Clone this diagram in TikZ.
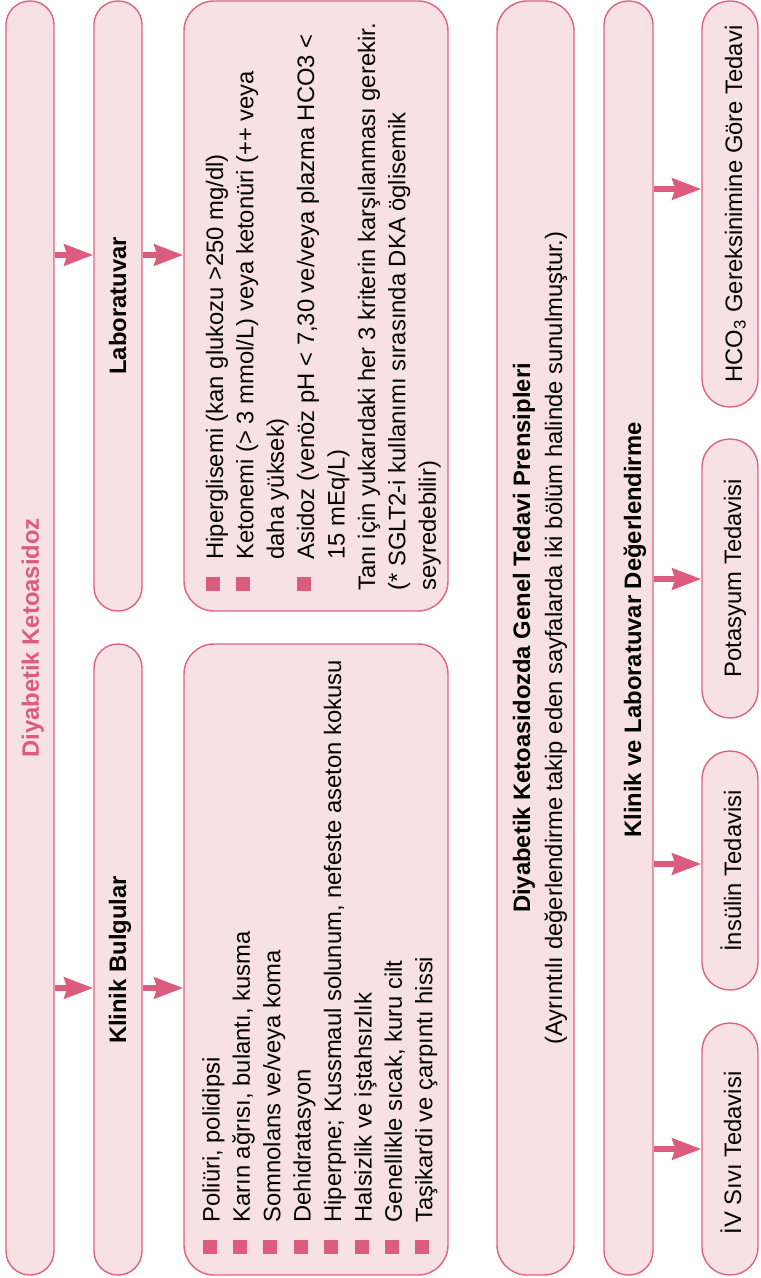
\documentclass[tikz,border=0pt]{standalone}
\usepackage{fontspec}
\setmainfont{Liberation Sans}
\usetikzlibrary{arrows.meta}

\definecolor{boxfill}{RGB}{248,225,229}
\definecolor{boxline}{RGB}{224,98,128}
\definecolor{accent}{RGB}{219,92,124}

% square bullet followed by the item text
\newcommand{\bul}{\makebox[15.5pt][l]{\textcolor{accent}{\rule[1.5pt]{7pt}{7pt}}}}
\newcommand{\ind}{\hspace*{15.5pt}}

\tikzset{
  panel/.style={draw=boxline, fill=boxfill, line width=0.7pt, inner sep=0pt, rounded corners=#1},
  panel/.default=12pt,
  link/.style={draw=accent, line width=3pt, -{Stealth[length=14.5pt,width=10.5pt,inset=1.5pt]}},
  vtext/.style={rotate=90, inner sep=0pt, font=\fontsize{11.9pt}{15.2pt}\selectfont},
  vtitle/.style={rotate=90, inner sep=0pt, font=\fontsize{11.9pt}{15.2pt}\selectfont\bfseries},
}

\begin{document}
\begin{tikzpicture}[x=0.5pt,y=-0.5pt]
\useasboundingbox (0,0) rectangle (760,1278);

% ---- panels ----
\node[panel=11.9pt, minimum width=24pt, minimum height=637pt] (dka) at (30,638) {};
\node[panel=11.9pt, minimum width=24pt, minimum height=305pt] (lab) at (118,306) {};
\node[panel=11.9pt, minimum width=24pt, minimum height=315.5pt] (kb) at (118,959.5) {};
\node[panel=15pt, minimum width=132pt, minimum height=305pt] (labtxt) at (316,306) {};
\node[panel=15pt, minimum width=132pt, minimum height=315.5pt] (kbtxt) at (316,959.5) {};
\node[panel=15pt, minimum width=38.5pt, minimum height=637pt] (genel) at (535.5,638) {};
\node[panel=12pt, minimum width=24.5pt, minimum height=637pt] (deg) at (628.5,638) {};
\node[panel=13.9pt, minimum width=28pt, minimum height=203pt] (hco) at (730,204) {};
\node[panel=13.9pt, minimum width=28pt, minimum height=139.5pt] (pot) at (730,578.5) {};
\node[panel=13.9pt, minimum width=28pt, minimum height=119.5pt] (ins) at (730,870.5) {};
\node[panel=13.9pt, minimum width=28pt, minimum height=126pt] (siv) at (730,1149) {};

% ---- texts ----
\node[vtitle, text=accent, anchor=base] (dkaT) at (39,638) {Diyabetik Ketoasidoz};
\node[vtitle, anchor=base] (labT) at (126,306) {Laboratuvar};
\node[vtitle, anchor=base] (kbT) at (126,960) {Klinik Bulgular};

\node[vtext, anchor=base west] (labL) at (223,591) {%
\begin{tabular}[t]{@{}l@{}}
\bul Hiperglisemi (kan glukozu >250 mg/dl)\\
\bul Ketonemi (> 3 mmol/L) veya ketonüri (++ veya\\
\ind daha yüksek)\\
\bul Asidoz (venöz pH < 7,30 ve/veya plazma HCO3 <\\
\ind 15 mEq/L)\\
Tanı için yukarıdaki her 3 kriterin karşılanması gerekir.\\
(* SGLT2-i kullanımı sırasında DKA öglisemik\\
seyredebilir)
\end{tabular}};

\node[vtext, anchor=base west] (kbL) at (219.5,1254) {%
\begin{tabular}[t]{@{}l@{}}
\bul Poliüri, polidipsi\\
\bul Karın ağrısı, bulantı, kusma\\
\bul Somnolans ve/veya koma\\
\bul Dehidratasyon\\
\bul Hiperpne; Kussmaul solunum, nefeste aseton kokusu\\
\bul Halsizlik ve iştahsızlık\\
\bul Genellikle sıcak, kuru cilt\\
\bul Taşikardi ve çarpıntı hissi
\end{tabular}};

\node[vtext, anchor=base, font=\fontsize{11.9pt}{16pt}\selectfont] (genelT) at (530,638) {%
\begin{tabular}[t]{@{}c@{}}
\textbf{Diyabetik Ketoasidozda Genel Tedavi Prensipleri}\\
(Ayrıntılı değerlendirme takip eden sayfalarda iki bölüm halinde sunulmuştur.)
\end{tabular}};

\node[vtitle, anchor=base] (degT) at (641,630) {Klinik ve Laboratuvar Değerlendirme};

\node[vtext, anchor=base] (hcoT) at (742,204) {HCO\textsubscript{3} Gereksinimine Göre Tedavi};
\node[vtext, anchor=base] (potT) at (741,578) {Potasyum Tedavisi};
\node[vtext, anchor=base] (insT) at (741,871) {İnsülin Tedavisi};
\node[vtext, anchor=base] (sivT) at (741,1153) {İV Sıvı Tedavisi};

% ---- connector rows ----
\coordinate (r1) at (0,255);
\coordinate (r2) at (0,988);
\coordinate (s1) at (0,189);
\coordinate (s2) at (0,579);
\coordinate (s3) at (0,864);
\coordinate (s4) at (0,1149);

\draw[link] (dka.east |- r1) -- (lab.west |- r1);
\draw[link] (lab.east |- r1) -- (labtxt.west |- r1);
\draw[link] (dka.east |- r2) -- (kb.west |- r2);
\draw[link] (kb.east |- r2) -- (kbtxt.west |- r2);

\draw[link] (deg.east |- s1) -- (hco.west |- s1);
\draw[link] (deg.east |- s2) -- (pot.west |- s2);
\draw[link] (deg.east |- s3) -- (ins.west |- s3);
\draw[link] (deg.east |- s4) -- (siv.west |- s4);
\end{tikzpicture}
\end{document}
